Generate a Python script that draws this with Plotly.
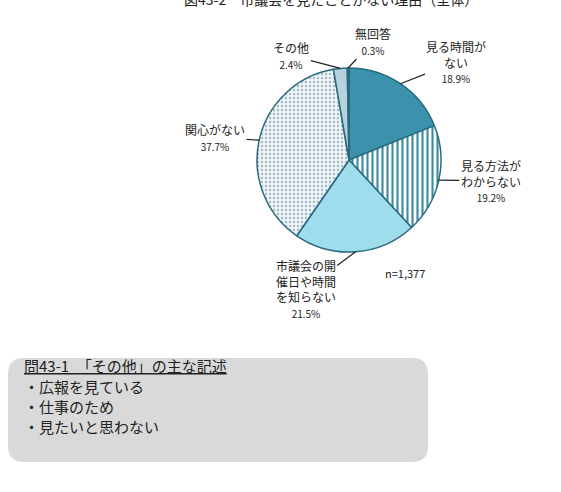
import math
import plotly.graph_objects as go

# ---- data ----
categories = ["見る時間が<br>ない", "見る方法が<br>わからない", "市議会の開<br>催日や時間<br>を知らない",
              "関心がない", "その他", "無回答"]
values = [18.9, 19.2, 21.5, 37.7, 2.4, 0.3]
pct_labels = ["18.9%", "19.2%", "21.5%", "37.7%", "2.4%", "0.3%"]
title_text = "図43-2　市議会を見たことがない理由（全体）"
n_text = "n=1,377"
box_title = "問43-1　「その他」の主な記述"
box_items = ["・広報を見ている", "・仕事のため", "・見たいと思わない"]

# ---- styles ----
W, H = 561, 492
fills = ["#3c91ac", "#ffffff", "#9fdcec", "#eef4f7", "#b4d3de", "#2b6f86"]
fgs = ["#3c91ac", "#3a8aa5", "#9fdcec", "#a3bbc6", "#b4d3de", "#2b6f86"]
shapes_p = ["", "|", "", ".", "", ""]
psize = [8, 5, 8, 4, 8, 8]
psol = [0.3, 0.42, 0.3, 0.28, 0.3, 0.3]
edge = "#2a6a7d"
cx, cy, R = 349, 160, 92  # pixel geometry of the pie
label_offsets = [(56, -22), (52, 1), (-50, 37), (-44, -3), (-49, -13), (25, -27)]
FONT = "Noto Sans CJK JP"

fig = go.Figure()
fig.add_trace(go.Pie(
    labels=[c.replace("<br>", "") for c in categories],
    values=values,
    sort=False,
    direction="clockwise",
    rotation=0,
    textinfo="none",
    hoverinfo="label+percent",
    domain=dict(x=[(cx - R) / W, (cx + R) / W], y=[1 - (cy + R) / H, 1 - (cy - R) / H]),
    marker=dict(
        colors=fills,
        line=dict(color=edge, width=1.5),
        pattern=dict(shape=shapes_p, bgcolor=fills, fgcolor=fgs, size=psize,
                     solidity=psol, fillmode="replace"),
    ),
    showlegend=False,
))

annotations = []
total = sum(values)
cum = 0.0
for cat, v, p, (ox, oy) in zip(categories, values, pct_labels, label_offsets):
    mid = (cum + v / 2) / total * 2 * math.pi
    cum += v
    px = cx + R * math.sin(mid)
    py = cy - R * math.cos(mid)
    annotations.append(dict(
        x=px / W, y=1 - py / H, xref="paper", yref="paper",
        text=f"{cat}<br><span style='font-size:10px'>{p}</span>",
        showarrow=True, arrowhead=0, arrowwidth=1.2, arrowcolor="#222222",
        ax=ox, ay=oy, standoff=0, startstandoff=0,
        font=dict(family=FONT, size=12, color="#222222"),
        align="center",
    ))

annotations.append(dict(x=0.59, y=1 + 1 / H, xref="paper", yref="paper",
                        text=title_text, showarrow=False, yanchor="middle",
                        font=dict(family=FONT, size=14, color="#222222")))
annotations.append(dict(x=427 / W, y=1 - 273 / H, xref="paper", yref="paper",
                        text=n_text, showarrow=False,
                        font=dict(family=FONT, size=11, color="#222222")))
annotations.append(dict(x=22 / W, y=1 - 378 / H, xref="paper", yref="paper",
                        text=f"<u>{box_title}</u>", showarrow=False, xanchor="left",
                        font=dict(family=FONT, size=15, color="#222222")))
for i, item in enumerate(box_items):
    annotations.append(dict(x=22 / W, y=1 - (399 + 20 * i) / H, xref="paper", yref="paper",
                            text=item, showarrow=False, xanchor="left",
                            font=dict(family=FONT, size=15, color="#222222")))

# rounded rectangle for the note box
x0, x1, y0, y1, r = 8, 428, 358, 462, 16
def P(x, y):
    return f"{x / W:.5f},{1 - y / H:.5f}"
path = (f"M {P(x0 + r, y0)} L {P(x1 - r, y0)} Q {P(x1, y0)} {P(x1, y0 + r)} "
        f"L {P(x1, y1 - r)} Q {P(x1, y1)} {P(x1 - r, y1)} L {P(x0 + r, y1)} "
        f"Q {P(x0, y1)} {P(x0, y1 - r)} L {P(x0, y0 + r)} Q {P(x0, y0)} {P(x0 + r, y0)} Z")

fig.update_layout(
    width=W, height=H,
    margin=dict(l=0, r=0, t=0, b=0),
    paper_bgcolor="white", plot_bgcolor="white",
    annotations=annotations,
    shapes=[dict(type="path", xref="paper", yref="paper", path=path,
                 fillcolor="#d9d9d9", line=dict(width=0), layer="below")],
)

fig.write_html("out.html")
